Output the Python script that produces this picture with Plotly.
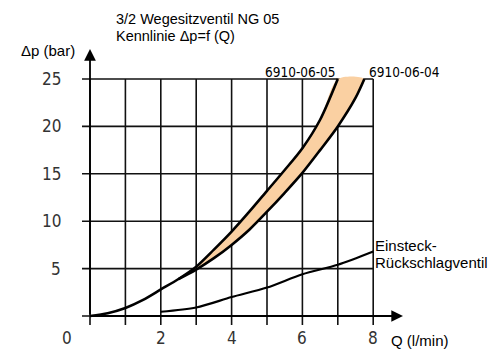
import plotly.graph_objects as go

# ---- data ----
q_upper = [0, 0.5, 1, 1.5, 2, 2.5, 3, 3.5, 4, 4.5, 5, 5.5, 6, 6.5, 7]
dp_upper = [0, 0.3, 0.85, 1.7, 2.8, 3.9, 5.2, 7.0, 8.9, 11.0, 13.2, 15.4, 17.7, 20.7, 25]  # 6910-06-05

q_lower = [2.5, 3, 3.5, 4, 4.5, 5, 5.5, 6, 6.5, 7, 7.5, 7.75]
dp_lower = [3.9, 4.9, 6.1, 7.5, 9.1, 11.0, 13.0, 15.1, 17.5, 20.0, 23.0, 25]  # 6910-06-04

q_check = [2, 3, 4, 5, 6, 7, 8]
dp_check = [0.45, 0.9, 2.0, 3.0, 4.4, 5.4, 6.8]  # Einsteck-Rückschlagventil

x_grid = [0, 1, 2, 3, 4, 5, 6, 7, 8]
x_tick_vals = [0, 2, 4, 6, 8]
x_tick_text = ["0", "2", "4", "6", "8"]
y_grid = [0, 5, 10, 15, 20, 25]
y_tick_vals = [5, 10, 15, 20, 25]
y_tick_text = ["5", "10", "15", "20", "25"]

# ---- geometry (pixel mapping of the reference) ----
W, H = 492, 350
PX_X = 35.4   # px per l/min
PX_Y = 9.48   # px per bar
X0_PX, Y0_PX = 90, 316
xr = [-X0_PX / PX_X, (W - X0_PX) / PX_X]
yr = [-(H - Y0_PX) / PX_Y, Y0_PX / PX_Y]

def dx(px):
    return (px - X0_PX) / PX_X

def dy(py):
    return (Y0_PX - py) / PX_Y

fig = go.Figure()

# filled band between the two valve curves
poly_x = q_upper[5:] + q_lower[::-1]
poly_y = dp_upper[5:] + dp_lower[::-1]
fig.add_trace(go.Scatter(x=poly_x, y=poly_y, fill="toself", fillcolor="#FAD0A2",
                         mode="lines", line=dict(width=0, shape="spline", smoothing=0.8),
                         hoverinfo="skip", showlegend=False))

shapes = []
for gx in x_grid:
    shapes.append(dict(type="line", xref="x", yref="y", x0=gx, x1=gx, y0=dy(325), y1=25,
                       line=dict(color="#111", width=1.6), layer="below"))
for gy in y_grid:
    shapes.append(dict(type="line", xref="x", yref="y", x0=dx(82), x1=8, y0=gy, y1=gy,
                       line=dict(color="#111", width=1.6), layer="below"))

line_style = dict(color="black", width=2.6, shape="spline", smoothing=0.8)
fig.add_trace(go.Scatter(x=q_upper, y=dp_upper, mode="lines", line=line_style, showlegend=False))
fig.add_trace(go.Scatter(x=q_lower, y=dp_lower, mode="lines", line=line_style, showlegend=False))
fig.add_trace(go.Scatter(x=q_check, y=dp_check, mode="lines",
                         line=dict(color="black", width=2.2, shape="spline", smoothing=0.8),
                         showlegend=False))

ann = []
# axis arrows
ann.append(dict(x=0, y=dy(49), ax=0, ay=0, xref="x", yref="y", axref="x", ayref="y",
                showarrow=True, arrowhead=2, arrowsize=1.3, arrowwidth=1.8, arrowcolor="black", text=""))
ann.append(dict(x=dx(403), y=0, ax=0, ay=0, xref="x", yref="y", axref="x", ayref="y",
                showarrow=True, arrowhead=2, arrowsize=1.3, arrowwidth=1.8, arrowcolor="black", text=""))

tick_font = dict(family="DejaVu Sans Condensed, Liberation Sans Narrow, DejaVu Sans", size=17, color="#333")
for v, t in zip(x_tick_vals, x_tick_text):
    xv = v if v != 0 else dx(67)
    ann.append(dict(x=xv, y=dy(338), xref="x", yref="y", text=t, showarrow=False,
                    font=tick_font, xanchor="center", yanchor="middle"))
for v, t in zip(y_tick_vals, y_tick_text):
    ann.append(dict(x=dx(63), y=v, xref="x", yref="y", text=t, showarrow=False,
                    font=tick_font, xanchor="right", yanchor="middle"))

lab_font = dict(family="Liberation Sans, Arial", size=15, color="black")
title_font = dict(family="Liberation Sans, Arial", size=14.5, color="black")
for txt, px, py, f in [("3/2 Wegesitzventil NG 05", 114, 18.5, title_font),
                       ("Kennlinie Δp=f (Q)", 114, 36, title_font),
                       ("Δp (bar)", 19, 50, lab_font), ("Q (l/min)", 389, 340, lab_font),
                       ("Einsteck-", 373, 245, lab_font), ("Rückschlagventil", 373, 262, lab_font)]:
    ann.append(dict(x=dx(px), y=dy(py), xref="x", yref="y", text=txt, showarrow=False,
                    font=f, xanchor="left", yanchor="middle"))
code_font = dict(family="DejaVu Sans Condensed, Liberation Sans Narrow, DejaVu Sans", size=13.5, color="black")
ann.append(dict(x=dx(300), y=dy(72), xref="x", yref="y", text="6910-06-05", showarrow=False,
                font=code_font, xanchor="center", yanchor="middle"))
ann.append(dict(x=dx(404), y=dy(72), xref="x", yref="y", text="6910-06-04", showarrow=False,
                font=code_font, xanchor="center", yanchor="middle"))

fig.update_layout(
    width=W, height=H, margin=dict(l=0, r=0, t=0, b=0, pad=0),
    paper_bgcolor="white", plot_bgcolor="white",
    xaxis=dict(range=xr, visible=False, fixedrange=True),
    yaxis=dict(range=yr, visible=False, fixedrange=True),
    shapes=shapes, annotations=ann,
)

fig.write_html("out.html", config={"displayModeBar": False},
               post_script="document.body.style.margin='0';")
